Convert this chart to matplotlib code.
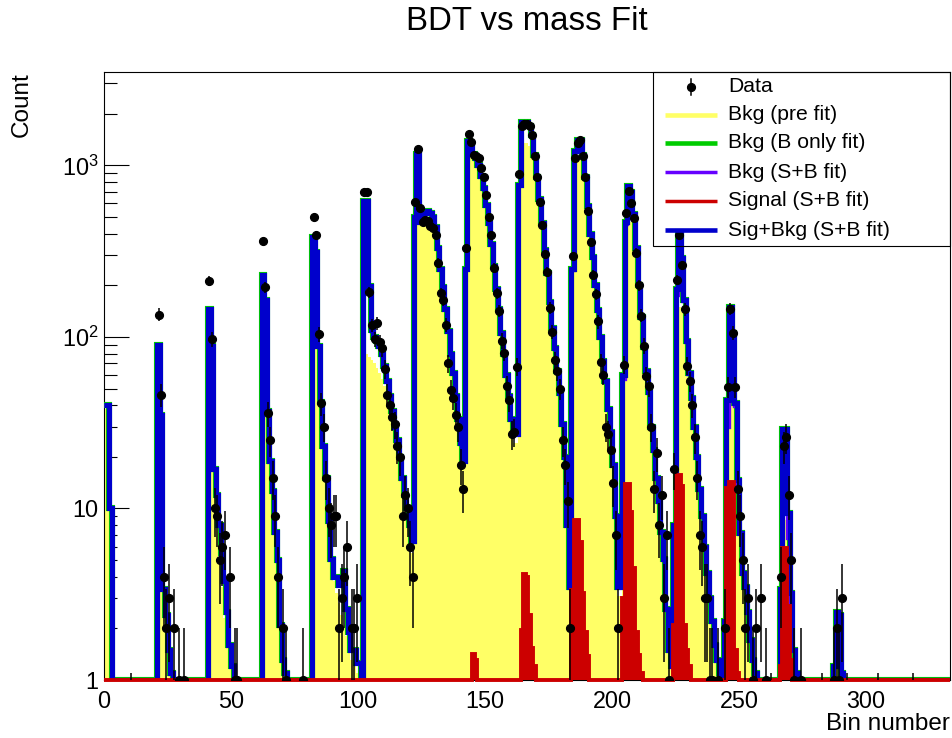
import numpy as np
import matplotlib
matplotlib.use('Agg')
import matplotlib.pyplot as plt
from matplotlib.patches import Rectangle
from matplotlib.lines import Line2D
from matplotlib.ticker import FixedLocator, FixedFormatter, LogLocator, NullFormatter

N_BINS = 333

# Each series: first bin of a block -> contents of consecutive bins
sig_bkg_sb = {  # Sig+Bkg (S+B fit)
    0: [40, 40, 10],
    21: [90, 35, 3.4, 2.4, 1.5, 1.1],
    41: [145, 88, 17, 12, 8, 5.5, 3.8, 2.5, 1.6, 1.2],
    62: [230, 165, 37, 19, 12.7, 7.3, 5, 2.1, 1.3, 1.1],
    82: [384, 311, 88, 42, 23, 15, 8.4, 5.1, 4, 4, 3.6, 3.6, 4.3, 2.6, 1.9, 1.5, 1.5, 1.25, 1.25],
    102: [620, 620, 197, 110, 100, 95, 88, 80, 68, 55, 45, 37, 30, 25, 20, 15, 12, 10, 8, 6.5],
    122: [500, 1160, 470, 470, 530, 540, 530, 500, 440, 330, 250, 195, 146, 108, 80, 62, 45, 33, 24, 19],
    142: [250, 1380, 1300, 1170, 1110, 1000, 870, 740, 590, 460, 350, 260, 190, 145, 105, 80, 60, 45, 33, 27, 27],
    163: [770, 1790, 1790, 1790, 1700, 1500, 1150, 860, 640, 460, 320, 235, 160, 112, 86, 63, 47, 31, 20, 8, 3.5],
    184: [250, 1210, 1400, 1400, 1150, 850, 580, 400, 292, 200, 144, 100, 72, 55, 38, 28, 18, 9, 3.5, 3.5],
    204: [60, 470, 760, 700, 520, 330, 200, 131, 87, 63, 48, 30, 22, 15, 11, 7.3, 5.1, 2.6, 1.5, 1.2],
    224: [8, 190, 410, 290, 165, 95, 62, 44, 30, 20, 13, 9, 6, 4.2, 3, 2.2, 1.6, 1.3, 1.1],
    244: [2.2, 43, 150, 105, 41, 14.6, 7.2, 4.2, 3.5, 2.5, 1.7, 1.3, 1.1],
    266: [3.4, 29, 29, 9.4, 3.2, 1.5, 1.1],
    287: [1.2, 2.5, 2.4, 1.1],
}

bkg_prefit = {  # Bkg (pre fit)
    0: [38, 38, 9],
    21: [88, 3.6, 2.8, 2.0, 1.5, 1.2],
    41: [140, 17, 12, 8, 5, 3.5, 2.3, 1.6, 1.3, 1.1],
    62: [225, 35, 22, 15, 10, 6.5, 4, 2.5, 1.6, 1.2],
    82: [380, 86, 55, 33, 20, 12, 7.5, 5, 3.8, 3.2, 2.8, 2.4, 2.1, 1.8, 1.5, 1.3, 1.2, 1.1, 1.05],
    102: [600, 80, 76, 73, 70, 66, 62, 57, 52, 46, 40, 33, 27, 22, 17, 13, 10.5, 8.5, 7, 5.5],
    122: [470, 480, 460, 460, 470, 470, 460, 440, 400, 320, 240, 190, 140, 100, 75, 56, 42, 31, 23, 18],
    142: [240, 1250, 1180, 1060, 1000, 900, 780, 660, 530, 410, 310, 235, 170, 130, 95, 72, 54, 40, 30, 24, 24],
    163: [650, 1250, 1350, 1350, 1300, 1250, 1000, 780, 590, 425, 295, 215, 148, 103, 79, 59, 43, 29.5, 18.5, 7.8, 3.1],
    184: [230, 1000, 1070, 1070, 1000, 780, 530, 370, 265, 183, 133, 93, 67, 51, 35, 25.5, 16.5, 8.2, 3.1, 3.1],
    204: [50, 380, 460, 470, 430, 290, 185, 122, 82, 59, 44, 28, 20, 14, 10, 7, 4.7, 2.5, 1.4, 1.15],
    224: [7, 140, 150, 140, 96, 70, 50, 36, 25, 17, 11.5, 8, 5.5, 3.8, 2.7, 2.0, 1.5, 1.25, 1.1],
    244: [2, 25, 41, 41, 15, 9, 5, 3.5, 3, 2.2, 1.6, 1.25, 1.1],
    266: [2.5, 9, 8.6, 5, 2.4, 1.3, 1.05],
    287: [1.1, 2.2, 2.2, 1.05],
}

signal_sb = {  # Signal (S+B fit)
    145: [1.42, 1.3],
    164: [1.96, 4.15, 4.0, 2.4, 1.54, 1.2],
    184: [3.35, 8.6, 8.6, 6.4, 3.2, 1.9, 1.38],
    204: [3.0, 13.8, 13.8, 9.5, 4.5, 1.9, 1.4, 1.1],
    224: [2.1, 15.6, 15.6, 13.6, 2.1, 1.5, 1.2],
    245: [13.2, 14.3, 14.3, 1.5, 1.1],
    266: [1.2, 5.9, 5.9, 2.7, 1.3],
}

data_counts = {
    21: [135, 46, 4, 2, 3, 0, 2, 0, 1, 0, 1],
    41: [212, 97, 10, 9, 5, 6, 7, 0, 4, 0, 1, 1],
    62: [360, 195, 36, 25, 15, 9, 4, 0, 2, 1, 0, 0, 0, 0, 0, 0, 1],
    82: [500, 393, 104, 41, 30, 15, 10, 8, 9, 9, 2, 3, 4, 6, 0, 2, 2, 3],
    102: [700, 700, 183, 117, 97, 120, 93, 86, 65, 46, 40, 34, 31, 23, 20, 9, 12, 10, 6, 4],
    122: [610, 1250, 565, 465, 480, 475, 445, 430, 390, 270, 180, 165, 118, 70, 49, 44, 35, 30, 18, 13],
    142: [330, 1530, 1370, 1150, 1140, 1100, 960, 850, 670, 500, 395, 253, 180, 142, 95, 81, 52, 43, 27, 28, 67],
    163: [890, 1700, 1750, 1740, 1700, 1510, 1130, 860, 610, 450, 305, 240, 148, 107, 73, 63, 50, 25, 18, 11, 2],
    184: [296, 1100, 1350, 1400, 1140, 850, 540, 355, 230, 177, 123, 71, 60, 30, 27, 22, 14, 7, 2, 0],
    204: [69, 530, 710, 600, 495, 310, 200, 133, 89, 59, 52, 30, 13, 21, 8, 12, 3, 7, 1],
    224: [17, 215, 395, 262, 145, 68, 55, 40, 26, 15, 7, 6, 3, 3, 1, 1, 0, 1],
    244: [2, 51, 146, 106, 51, 13, 9, 5, 2, 3, 0, 1, 2, 0, 3, 0, 1],
    266: [4, 23, 26, 12, 5, 1, 0, 0, 1],
    287: [1, 2, 1, 3],
}

empty_bins = [10, 262, 282, 292, 304, 318]

x_ticks = [0, 50, 100, 150, 200, 250, 300]
y_ticks = [1, 10, 100, 1000]
y_tick_labels = ['1', '10', '$10^{2}$', '$10^{3}$']

legend_labels = ['Data', 'Bkg (pre fit)', 'Bkg (B only fit)', 'Bkg (S+B fit)',
                 'Signal (S+B fit)', 'Sig+Bkg (S+B fit)']

YELLOW = '#ffff66'
GREEN = '#00cc00'
PURPLE = '#6600ff'
RED = '#cc0000'
BLUE = '#0000cc'

W, H = 953, 738


def to_array(blocks):
    """Spread block lists into one array of bin contents"""
    arr = np.zeros(N_BINS)
    for start, vals in blocks.items():
        arr[start:start + len(vals)] = vals
    return arr


def fx(px):
    return px / W


def fy(py):
    return 1 - py / H


plt.rcParams['font.family'] = ['Liberation Sans', 'DejaVu Sans']
plt.rcParams['mathtext.fontset'] = 'custom'
plt.rcParams['mathtext.rm'] = 'Liberation Sans'
plt.rcParams['mathtext.it'] = 'Liberation Sans'

total = to_array(sig_bkg_sb)
prefit = to_array(bkg_prefit)
signal = to_array(signal_sb)
bkg_sb = total - signal
data = to_array(data_counts)

edges = np.arange(N_BINS + 1)
centers = edges[:-1] + 0.5

fig = plt.figure(figsize=(W / 100, H / 100), dpi=100)
ax = fig.add_axes([fx(104), fy(680), fx(950) - fx(104), fy(72) - fy(680)])

# Histograms
ax.stairs(np.maximum(prefit, 1), edges, fill=True, color=YELLOW, baseline=1, zorder=2)
ax.stairs(np.maximum(total, 1), edges, baseline=None, color=GREEN, lw=4.4, zorder=3)
ax.stairs(np.maximum(bkg_sb, 1), edges, baseline=None, color=PURPLE, lw=2.4, zorder=4)
ax.stairs(np.maximum(total, 1), edges, baseline=None, color=BLUE, lw=3.7, zorder=5)
ax.stairs(np.maximum(signal, 1), edges, fill=True, color=RED, baseline=1, zorder=6)
ax.stairs(np.maximum(signal, 1), edges, baseline=None, color=RED, lw=2.8, zorder=6,
          clip_on=False)

# Data with sqrt(N) errors
has = data > 0
n = data[has]
err_lo = np.minimum(np.sqrt(n), n * 0.999)
err_hi = np.sqrt(n)
ax.errorbar(centers[has], n, yerr=[err_lo, err_hi], fmt='o', color='black',
            ms=5.6, elinewidth=1.1, capsize=0, zorder=8)
ax.vlines(np.array(empty_bins) + 0.5, 1, 1.1, color='black', lw=1.1, zorder=8)

ax.set_yscale('log')
ax.set_xlim(0, N_BINS)
ax.set_ylim(1, 3500)

ax.yaxis.set_major_locator(FixedLocator(y_ticks))
ax.yaxis.set_major_formatter(FixedFormatter(y_tick_labels))
ax.yaxis.set_minor_locator(LogLocator(base=10, subs=np.arange(2, 10)))
ax.yaxis.set_minor_formatter(NullFormatter())
ax.set_xticks(x_ticks)
ax.set_xticklabels([str(t) for t in x_ticks])

ax.tick_params(axis='y', which='major', direction='in', length=18, width=0.8,
               labelsize=16.8, pad=4)
ax.tick_params(axis='y', which='minor', direction='in', length=9, width=0.8)
ax.tick_params(axis='x', which='both', length=0, labelsize=16.8, pad=7)
for s in ax.spines.values():
    s.set_linewidth(0.8)

# Titles
fig.text(fx(527), fy(22), 'BDT vs mass Fit', ha='center', va='center', fontsize=23.8)
fig.text(fx(22), fy(72), 'Count', rotation=90, ha='center', va='top', fontsize=17.5)
fig.text(fx(950), fy(724), 'Bin number', ha='right', va='center', fontsize=17.5)

# Legend box (no fill, like the ROOT one)
fig.add_artist(Rectangle((fx(653), fy(246)), fx(950) - fx(653), fy(72) - fy(246),
                         transform=fig.transFigure, facecolor='none',
                         edgecolor='black', lw=0.8, zorder=10))
row_y = [87, 115, 143, 172, 201, 230]
sample_style = [(None, 0), (YELLOW, 3.3), (GREEN, 3.3), (PURPLE, 2.5), (RED, 2.5), (BLUE, 3.3)]
for label, py, (col, lw) in zip(legend_labels, row_y, sample_style):
    if col is None:
        fig.add_artist(Line2D([fx(691), fx(691)], [fy(py - 8), fy(py + 8)],
                              transform=fig.transFigure, color='black', lw=1.1, zorder=11))
        fig.add_artist(Line2D([fx(691)], [fy(py)], transform=fig.transFigure,
                              marker='o', ms=5.6, color='black', zorder=11))
    else:
        fig.add_artist(Line2D([fx(665), fx(717)], [fy(py), fy(py)],
                              transform=fig.transFigure, color=col, lw=lw,
                              solid_capstyle='butt', zorder=11))
    fig.text(fx(728), fy(py), label, ha='left', va='center', fontsize=15.2, zorder=11)

fig.savefig('out.png', dpi=100)
